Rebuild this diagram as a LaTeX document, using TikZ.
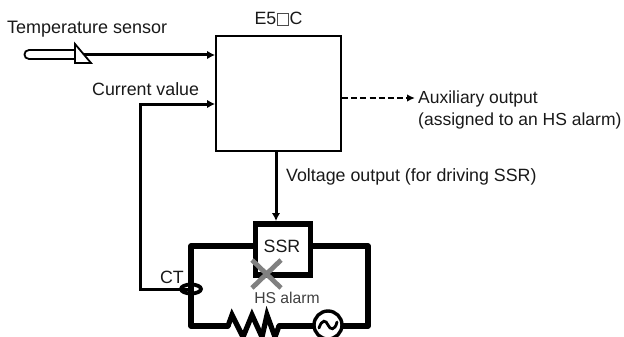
\documentclass[tikz,border=0pt]{standalone}
\usepackage{fontspec}
\setmainfont{Liberation Sans}
\usetikzlibrary{arrows.meta,shapes.geometric}
\newcommand{\smallsq}{{\fboxsep=0pt\fboxrule=0.5pt\color{black!70}\kern0.6pt\fbox{\rule{0pt}{11pt}\rule{11pt}{0pt}}\kern0.6pt}}
\tikzset{
 x=1pt,y=-1pt,
 lbl/.style={inner sep=0pt,font=\fontsize{17.8}{17.8}\selectfont,text=black!90},
 sig/.style={line width=3pt,-{Latex[length=8pt,width=8.5pt]}},
 pow/.style={line width=5.2pt,line join=round,line cap=round},
}
\begin{document}
\begin{tikzpicture}
\useasboundingbox (0,0) rectangle (624,337);
\clip (0,0) rectangle (624,337);
\node[draw,line width=1.8pt,minimum width=125pt,minimum height=115pt,inner sep=0pt] (box) at (278.5,93.5) {};
\node[lbl] (tit) at (278.5,19) {E5\smallsq C};
\node[lbl,anchor=west,font=\fontsize{18}{18}\selectfont] (ts) at (7,29) {Temperature sensor};
\node[lbl,anchor=west] (cv) at (92,89) {Current value};
\node[lbl,anchor=west,font=\fontsize{17.5}{17.5}\selectfont] (a1) at (418,99) {Auxiliary output};
\node[lbl,anchor=west,font=\fontsize{17.5}{17.5}\selectfont] (a2) at (418,121) {(assigned to an HS alarm)};
\node[lbl,anchor=west] (vo) at (286,177) {Voltage output (for driving SSR)};
% sensor
\coordinate (p1) at (75,50); \coordinate (p2) at (75,59);
\draw[line width=1.8pt] (p1) -- (29,50) .. controls (23,50) and (23,59) .. (29,59) -- (p2);
\draw[line width=1.8pt,fill=white,line join=miter] (75,44) -- (91,63) -- (75,63) -- cycle;
\coordinate (s) at (84,55);
\coordinate (bs) at (box.west |- s);
\draw[sig] (s) -- (bs);
% current
\coordinate (ct) at (191,289);
\coordinate (c1) at (140,104);
\coordinate (bc) at (box.west |- c1);
\coordinate (c2) at (140,289);
\draw[sig,line join=miter] (ct) -- (c2) -- (c1) -- (bc);
% aux
\coordinate (au) at (415,98);
\coordinate (ba) at (box.east |- au);
\draw[line width=1.9pt,dash pattern=on 6pt off 3.2pt,-{Latex[length=8pt,width=7.5pt]}] (ba) -- (au);
% power
\node[draw,line width=5.2pt,minimum width=55pt,minimum height=51pt,inner sep=0pt,fill=white] (ssr) at (283,249.5) {};
\node[lbl] (ssrt) at (282,246) {SSR};
\coordinate (vs) at (276,221);
\coordinate (vb) at (box.south -| vs);
\draw[sig] (vb) -- (vs);
\coordinate (wl) at (191,246); \coordinate (wr) at (368,246);
\coordinate (bl) at (191,326); \coordinate (br) at (368,326);
\node[draw,line width=3.4pt,circle,minimum size=28pt,inner sep=0pt] (ac) at (328,325) {};
\draw[pow] (ssr.west |- wl) -- (wl) -- (bl) -- (228,326);
\draw[pow,line cap=butt,line join=miter] (228,326) -- (232,315) -- (243,337) -- (252,315) -- (262,337) -- (267,315) -- (275,337) -- (279,326);
\draw[pow] (279,326) -- (ac.west |- bl);
\draw[pow] (ac.east |- br) -- (br) -- (wr) -- (ssr.east |- wr);
\draw[line width=2.8pt,line cap=round] (319,328) .. controls (322,319) and (326,320) .. (328,325) .. controls (330,330) and (335,331) .. (337,322);
% CT
\node[draw,line width=3.8pt,ellipse,minimum width=20pt,minimum height=9pt,inner sep=0pt] (cte) at (ct) {};
\node[lbl] (ctt) at (172,277) {CT};
% X
\coordinate (x1) at (252,260); \coordinate (x2) at (281,288);
\coordinate (x3) at (281,260); \coordinate (x4) at (252,288);
\draw[line width=4.8pt,draw=black!50] (x1) -- (x2) (x3) -- (x4);
\node[lbl,text=black!75,font=\fontsize{15.7}{15.7}\selectfont] (hs) at (287,298) {HS alarm};
\end{tikzpicture}
\end{document}
